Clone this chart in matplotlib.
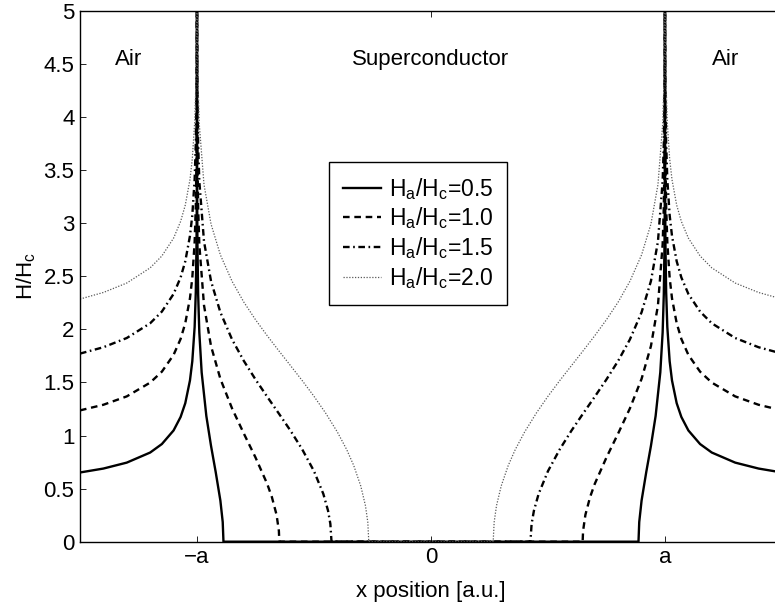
import numpy as np
import matplotlib
matplotlib.use('Agg')
import matplotlib.pyplot as plt
from matplotlib.ticker import FormatStrFormatter

plt.rcParams['font.family'] = ['Liberation Sans', 'DejaVu Sans']
plt.rcParams['mathtext.fontset'] = 'custom'
plt.rcParams['mathtext.rm'] = 'Liberation Sans'
plt.rcParams['mathtext.it'] = 'Liberation Sans:italic'

# DATA (left half; right half is the mirror image)_____________________________________________________________________

# |x|/a outside the strip (air)
x_out = [1.5, 1.4, 1.3, 1.2, 1.15, 1.1, 1.07, 1.05, 1.03, 1.02, 1.01, 1.005, 1.002, 1.001, 1.0003, 1.0001, 1.00001]
h05_out = [0.652, 0.689, 0.745, 0.840, 0.920, 1.048, 1.175, 1.305, 1.519, 1.700, 2.023, 2.357, 2.807, 3.151, 3.752,
           4.300, 5.451]
h10_out = [1.237, 1.290, 1.369, 1.499, 1.602, 1.760, 1.910, 2.059, 2.293, 2.486, 2.822, 3.163, 3.618, 3.963, 4.564,
           5.11, 6.26]
h15_out = [1.772, 1.832, 1.919, 2.058, 2.168, 2.334, 2.489, 2.642, 2.881, 3.075, 3.414, 3.756, 4.212, 4.557, 5.16,
           5.71, 6.86]
h20_out = [2.286, 2.348, 2.437, 2.580, 2.692, 2.860, 3.017, 3.171, 3.411, 3.607, 3.945, 4.288, 4.744, 5.09, 5.69,
           6.24, 7.39]

# |x|/a inside the strip (superconductor), from the edge down to the flux front
x05_in = [0.99999, 0.9999, 0.9997, 0.999, 0.998, 0.995, 0.99, 0.98, 0.96, 0.94, 0.92, 0.90, 0.89, 0.8868]
h05_in = [5.451, 4.300, 3.750, 3.146, 2.797, 2.331, 1.971, 1.595, 1.184, 0.903, 0.656, 0.387, 0.185, 0.0]

x10_in = [0.99999, 0.9999, 0.9997, 0.999, 0.998, 0.995, 0.99, 0.97, 0.94, 0.90, 0.85, 0.80, 0.75, 0.70, 0.68, 0.66,
          0.65, 0.6481]
h10_in = [6.26, 5.11, 4.563, 3.961, 3.613, 3.152, 2.799, 2.227, 1.843, 1.534, 1.255, 1.020, 0.794, 0.545, 0.421, 0.254,
          0.102, 0.0]

x15_in = [0.99999, 0.9999, 0.999, 0.998, 0.995, 0.99, 0.97, 0.94, 0.90, 0.85, 0.80, 0.75, 0.70, 0.65, 0.60, 0.55,
          0.50, 0.46, 0.44, 0.43, 0.4251]
h15_in = [6.86, 5.71, 4.555, 4.208, 3.747, 3.396, 2.829, 2.455, 2.161, 1.905, 1.704, 1.529, 1.366, 1.207, 1.045, 0.869,
          0.665, 0.450, 0.293, 0.168, 0.0]

x20_in = [0.99999, 0.9999, 0.999, 0.998, 0.995, 0.99, 0.97, 0.94, 0.90, 0.85, 0.80, 0.75, 0.70, 0.65, 0.60, 0.55,
          0.50, 0.45, 0.40, 0.36, 0.33, 0.30, 0.28, 0.27, 0.2658]
h20_in = [7.39, 6.24, 5.09, 4.741, 4.280, 3.929, 3.364, 2.993, 2.702, 2.453, 2.258, 2.092, 1.941, 1.798, 1.658, 1.517,
          1.370, 1.211, 1.033, 0.867, 0.717, 0.524, 0.339, 0.184, 0.0]

labels = ['H$_\\mathrm{a}$/H$_\\mathrm{c}$=0.5', 'H$_\\mathrm{a}$/H$_\\mathrm{c}$=1.0',
          'H$_\\mathrm{a}$/H$_\\mathrm{c}$=1.5', 'H$_\\mathrm{a}$/H$_\\mathrm{c}$=2.0']
xtick_pos = [-1, 0, 1]
xtick_labels = ['\u2212a', '0', 'a']
yticks = [0, 0.5, 1, 1.5, 2, 2.5, 3, 3.5, 4, 4.5, 5]

#_______________________________________________________________________________________________________________________


def full_profile(x_in, h_in, h_out):
    mag = np.concatenate([x_out, x_in])
    h = np.concatenate([h_out, h_in])
    x = np.concatenate([-mag, mag[::-1]])
    y = np.concatenate([h, h[::-1]])
    return x, y


curves = [full_profile(x05_in, h05_in, h05_out),
          full_profile(x10_in, h10_in, h10_out),
          full_profile(x15_in, h15_in, h15_out),
          full_profile(x20_in, h20_in, h20_out)]

styles = [dict(color='black', lw=1.7, ls='-'),
          dict(color='black', lw=1.7, dashes=(2.8, 2.0)),
          dict(color='black', lw=1.7, dashes=(2.8, 1.5, 0.7, 1.5)),
          dict(color='0.35', lw=0.9, dashes=(1.0, 1.3))]

fig = plt.figure(figsize=(7.75, 6.07), dpi=100)
ax = fig.add_axes([0.1032, 0.1076, 0.9058, 0.8743])

for i in range(len(curves)):
    ax.plot(curves[i][0], curves[i][1], label=labels[i], **styles[i])

ax.set_xlim(-1.5, 1.5)
ax.set_ylim(0, 5)
ax.set_xticks(xtick_pos)
ax.set_xticklabels(xtick_labels)
ax.set_yticks(yticks)
ax.yaxis.set_major_formatter(FormatStrFormatter('%g'))
ax.tick_params(direction='in', length=4, width=0.6, top=True, right=True, labelsize=16, pad=4)
for s in ax.spines.values():
    s.set_linewidth(1.0)

ax.set_xlabel('x position [a.u.]', fontsize=16, labelpad=9)
ax.set_ylabel('H/H$_\\mathrm{c}$', fontsize=16, labelpad=4)

ax.text(-1.352, 4.54, 'Air', fontsize=16, ha='left', va='center')
ax.text(0.0, 4.54, 'Superconductor', fontsize=16, ha='center', va='center')
ax.text(1.20, 4.54, 'Air', fontsize=16, ha='left', va='center')

leg = ax.legend(loc='upper left', bbox_to_anchor=(0.355, 0.7155), borderaxespad=0, fontsize=16.5,
                fancybox=False, framealpha=1, edgecolor='black', handlelength=1.65, handletextpad=0.36,
                labelspacing=0.17, borderpad=0.6)
leg.get_frame().set_linewidth(1.0)

fig.savefig('out.png', dpi=100)
